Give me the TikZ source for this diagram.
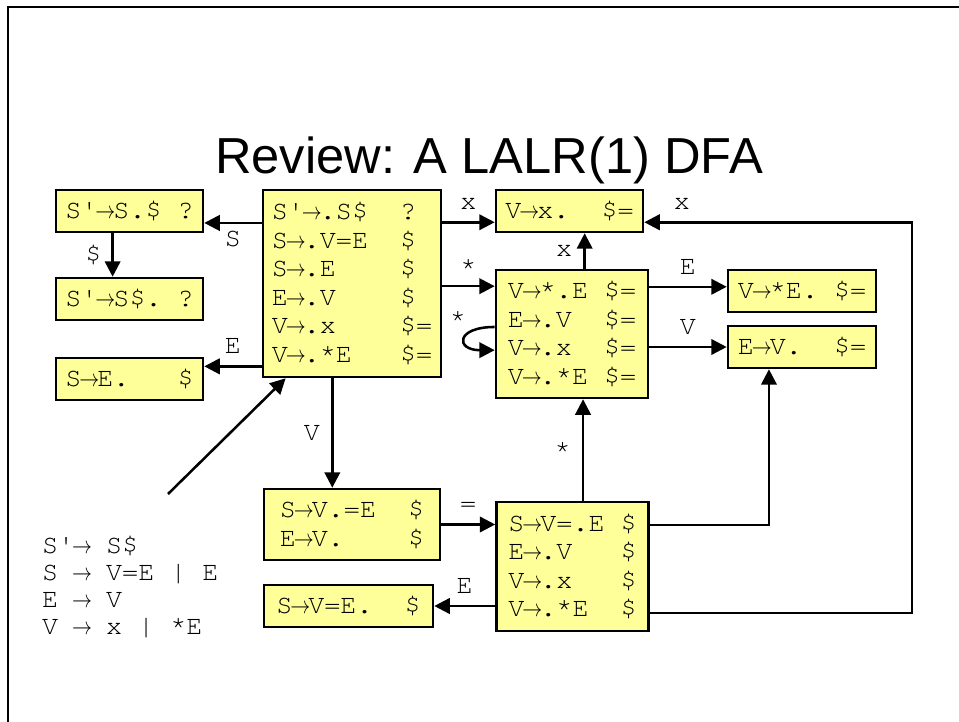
\documentclass[tikz,border=0pt]{standalone}
\usepackage{fontspec}
\setsansfont{Liberation Sans}
\setmonofont{TeX Gyre Cursor}
\usepackage{graphicx}
\usepackage{xcolor}
\usepackage{tikz}
\usetikzlibrary{shapes, arrows.meta}
\definecolor{itemyellow}{HTML}{FFFF99}
\newcommand{\arr}{\makebox[0.6em][c]{\scalebox{0.82}[1]{$\rightarrow$}}}
\tikzstyle{block} = [draw, rectangle, fill=itemyellow, line width=1.8pt, align=left, inner sep=0pt, font=\ttfamily\fontsize{19}{20.3}\selectfont]
\tikzstyle{lbl} = [inner sep=2pt, font=\ttfamily\fontsize{19}{20.3}\selectfont]
\tikzstyle{input} = [coordinate]

\begin{document}
\begin{tikzpicture}[x=0.025cm, y=-0.025cm, line width=1.8pt, >={Triangle[length=11pt, width=11pt]}]
    % 边框
    \useasboundingbox (0,0) rectangle (959,722);
    \draw [line width=2pt] (959,7) -- (8,7) -- (8,722);
    \node [font=\sffamily\fontsize{36}{40}\selectfont] (title) at (489,160) {Review: A LALR(1) DFA};

    % 放置节点
    \node [block, minimum width=3.675cm, minimum height=1.05cm] (sdot) at (129.5,211) {S'\arr S.\$~?};
    \node [block, minimum width=3.675cm, minimum height=1.05cm] (sacc) at (129.5,299) {S'\arr S\$.~?};
    \node [block, minimum width=3.675cm, minimum height=1.05cm] (se) at (129.5,379) {S\arr E.~~~\$};
    \node [block, minimum width=4.45cm, minimum height=4.675cm] (start) at (352,283.5)
        {S'\arr.S\$~~?\\S\arr.V=E~~\$\\S\arr.E~~~~\$\\E\arr.V~~~~\$\\V\arr.x~~~~\$=\\V\arr.*E~~~\$=};
    \node [block, minimum width=3.675cm, minimum height=1.05cm] (vx) at (569.5,211) {V\arr x.~~\$=};
    \node [block, minimum width=3.8cm, minimum height=3.2cm] (star) at (572,334)
        {V\arr*.E~\$=\\E\arr.V~~\$=\\V\arr.x~~\$=\\V\arr.*E~\$=};
    \node [block, minimum width=3.7cm, minimum height=1.05cm] (vstare) at (802,291) {V\arr*E.~\$=};
    \node [block, minimum width=3.7cm, minimum height=1.05cm] (ev) at (802,347) {E\arr V.~~\$=};
    \node [block, minimum width=4.4cm, minimum height=1.775cm] (sv) at (352,524.5) {S\arr V.=E~~\$\\E\arr V.~~~~\$};
    \node [block, minimum width=3.8cm, minimum height=3.225cm] (sveq) at (572.5,566.5)
        {S\arr V=.E~\$\\E\arr.V~~~\$\\V\arr.x~~~\$\\V\arr.*E~~\$};
    \node [block, minimum width=4.225cm, minimum height=1.05cm] (sve) at (348.5,606) {S\arr V=E.~~\$};
    \node [lbl, align=left, anchor=west, font=\ttfamily\fontsize{19}{19.3}\selectfont] (grammar) at (38,587)
        {S'\arr~S\$\\S~\arr~V=E~|~E\\E~\arr~V\\V~\arr~x~|~*E};
    \node [input] (gram) at (168,494) {};
    \node [input] (rim) at (912,400) {};

    % 转移
    \draw [->] ([yshift=-8.5pt]start.west |- sdot.east) -- node [lbl, below=3pt] {S} ([yshift=-8.5pt]sdot.east);
    \draw [->] ([xshift=-12pt]sdot.south) -- node [lbl, left=5pt] {\$} ([xshift=-12pt]sacc.north);
    \draw [->] ([yshift=9pt]start.west |- se.east) -- node [lbl, above=6pt] {E} ([yshift=9pt]se.east);
    \draw [->] ([yshift=-8pt]start.east |- vx.west) -- node [lbl, above=6pt] {x} ([yshift=-8pt]vx.west);
    \draw [->] ([yshift=34pt]start.east |- star.west) -- node [lbl, above=5pt] {*} ([yshift=34pt]star.west);
    \draw [->] ([yshift=5pt]star.west) .. controls +(-28pt,0pt) and +(-28pt,0pt) .. node [lbl, pos=0.3, above left] {*} ([yshift=-11.5pt]star.west);
    \draw [->] ([xshift=9pt]star.north) -- node [lbl, left=6pt] {x} ([xshift=9pt]star.north |- vx.south);
    \draw [->] ([yshift=3pt]star.east |- vstare.west) -- node [lbl, above=6pt] {E} ([yshift=3pt]vstare.west);
    \draw [->] (star.east |- ev.west) -- node [lbl, above=6pt] {V} (ev.west);
    \draw [->] ([xshift=-14pt]start.south) -- node [lbl, left=6pt] {V} ([xshift=-14pt]start.south |- sv.north);
    \draw [->] (sv.east) -- node [lbl, above=6pt] {=} (sv.east -| sveq.west);
    \draw [->] ([xshift=7.5pt]sveq.north) -- node [lbl, left=6pt] {*} ([xshift=7.5pt]sveq.north |- star.south);
    \draw [->] ([yshift=29.5pt]sveq.east) -| ([xshift=-23.5pt]ev.south);
    \draw [->] (sveq.west |- sve.east) -- node [lbl, above=6pt] {E} (sve.east);
    \draw [->] ([yshift=-33pt]sveq.east) -| (rim) |- node [lbl, above=6pt, pos=0.93] {x} ([yshift=-8pt]vx.east);
    \draw [->] (gram) -- ([xshift=17pt]start.south west);
\end{tikzpicture}
\end{document}
